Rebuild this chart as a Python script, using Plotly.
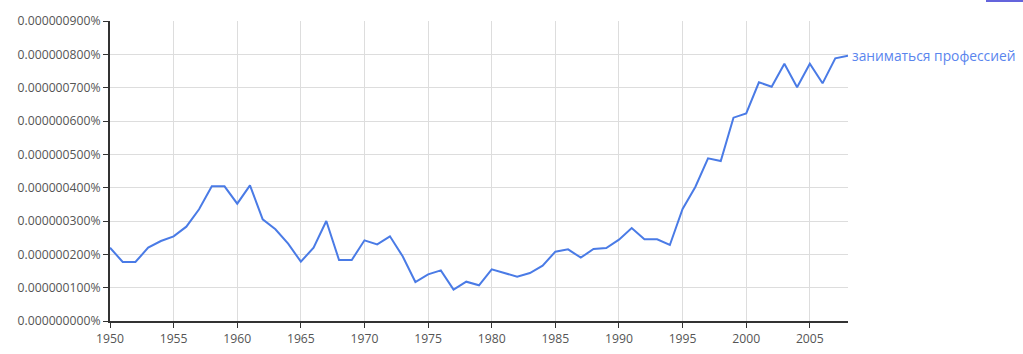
import plotly.graph_objects as go

years = list(range(1950, 2009))
# frequency in percent
values = [2.20, 1.77, 1.77, 2.20, 2.40, 2.54, 2.83, 3.35, 4.04, 4.04,
          3.52, 4.07, 3.05, 2.75, 2.32, 1.78, 2.20, 3.00, 1.83, 1.83,
          2.42, 2.30, 2.54, 1.94, 1.17, 1.40, 1.52, 0.94, 1.18, 1.07,
          1.55, 1.44, 1.33, 1.44, 1.66, 2.08, 2.15, 1.90, 2.16, 2.19,
          2.44, 2.79, 2.45, 2.45, 2.28, 3.36, 4.02, 4.88, 4.80, 6.10,
          6.23, 7.16, 7.03, 7.72, 7.01, 7.72, 7.13, 7.88, 7.96]
values = [v * 1e-7 for v in values]
series_name = "заниматься профессией"
y_ticks = [i * 1e-7 for i in range(10)]
y_ticktext = [f"{v:.9f}%" for v in y_ticks]
x_ticks = list(range(1950, 2009, 5))

line_color = "#4a7be6"

fig = go.Figure()
fig.add_trace(go.Scatter(x=years, y=values, mode="lines", name=series_name,
                         line=dict(color=line_color, width=2), showlegend=False))
fig.add_annotation(x=years[-1], y=values[-1], text=series_name, xanchor="left",
                   yanchor="middle", showarrow=False, xshift=2,
                   font=dict(color="#5a85ee", size=13.8, family="Open Sans"))
fig.add_shape(type="line", xref="paper", yref="paper", x0=(986-110)/738, x1=(1023-110)/738,
              y0=(354-33-1)/300, y1=(354-33-1)/300, line=dict(color="#3030d0", width=1.5))

fig.update_layout(
    width=1023, height=354,
    margin=dict(l=110, r=175, t=21, b=33, autoexpand=False),
    plot_bgcolor="white", paper_bgcolor="white",
    font=dict(family="Open Sans", size=12.2, color="#555"),
    xaxis=dict(range=[1950, 2008], tickvals=x_ticks, showgrid=True, gridcolor="#dddddd",
               gridwidth=1, showline=True, linecolor="#333", linewidth=2, automargin=False,
               ticks="outside", ticklen=5, tickcolor="#333", zeroline=False),
    yaxis=dict(range=[0, 9e-7], tickvals=y_ticks, ticktext=y_ticktext, showgrid=True,
               gridcolor="#dddddd", gridwidth=1, showline=True, linecolor="#333", linewidth=2,
               automargin=False,
               ticks="outside", ticklen=5, tickcolor="#333", zeroline=False),
)
fig.write_html("out.html")
